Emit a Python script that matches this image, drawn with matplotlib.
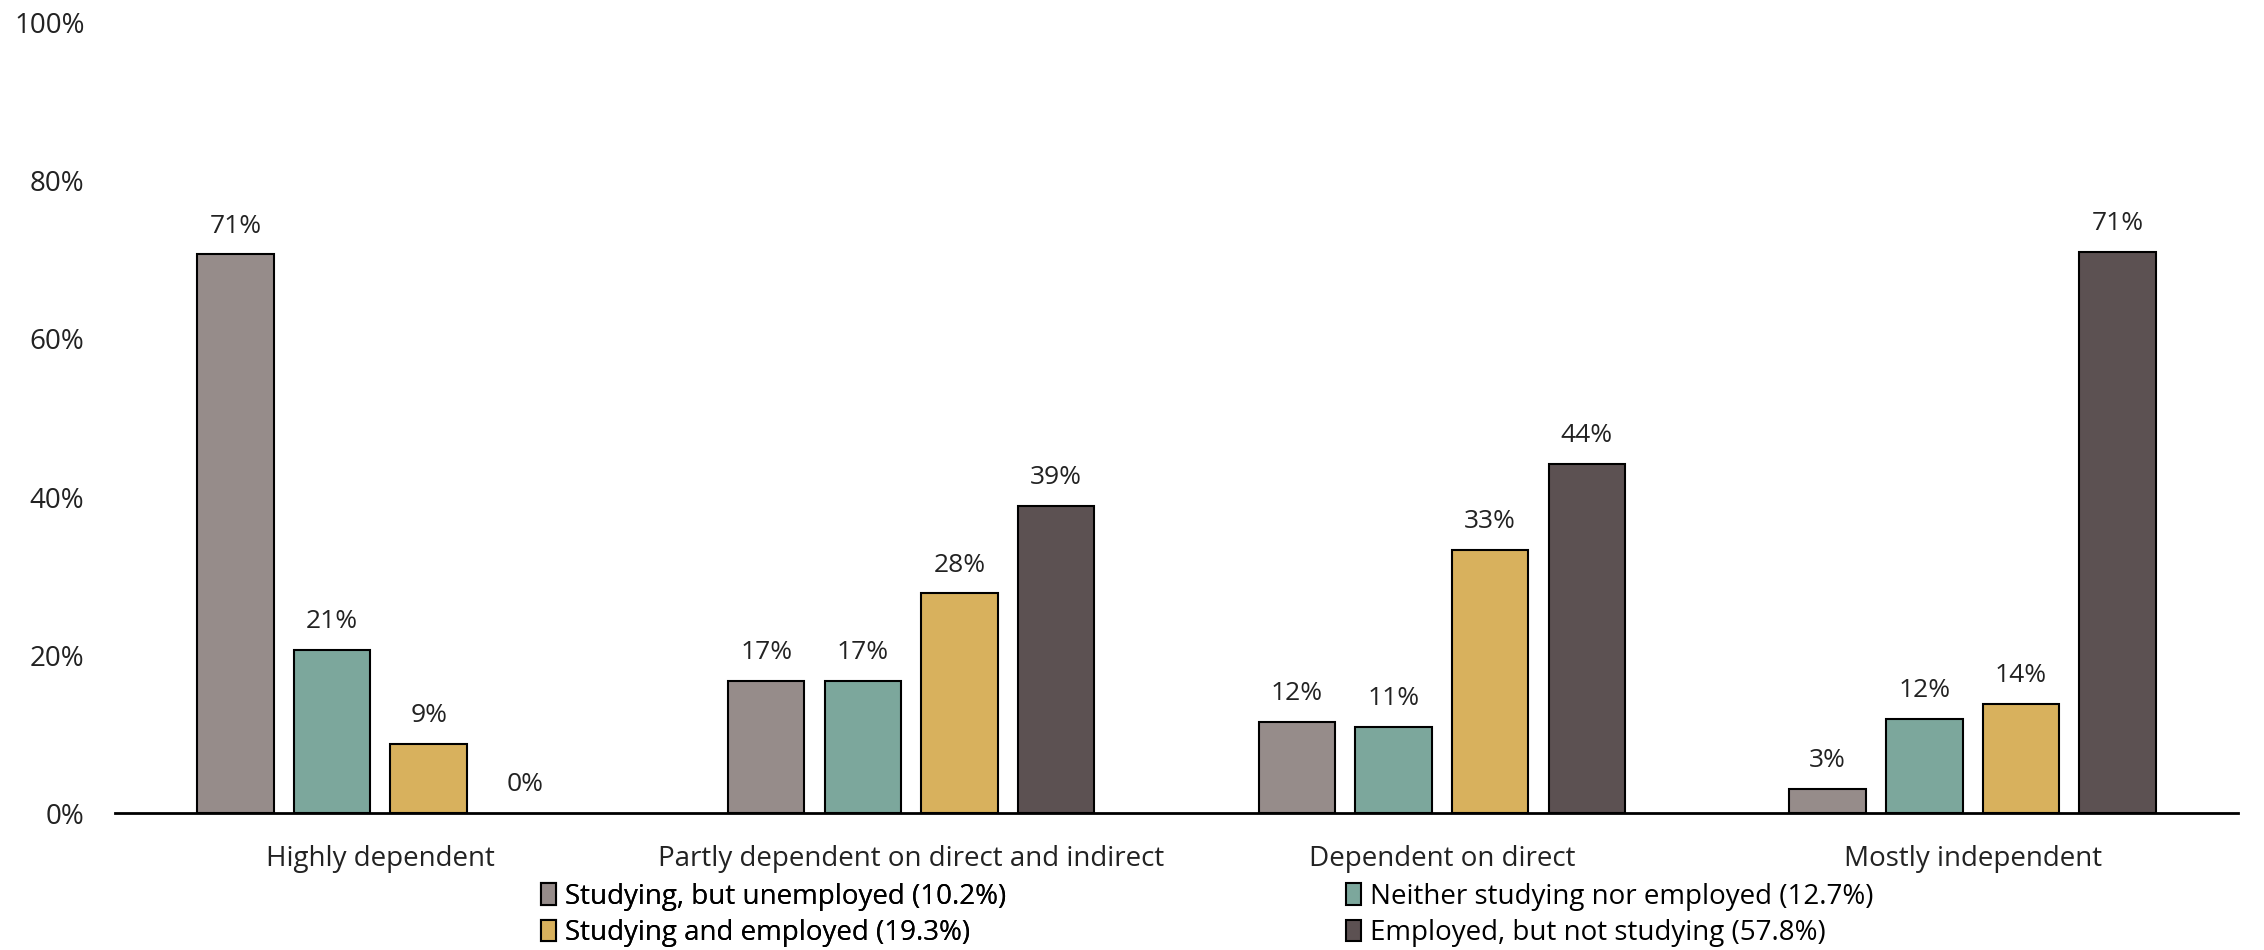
import numpy as np
import matplotlib.pyplot as plt
from matplotlib.patches import Patch
from matplotlib.ticker import FuncFormatter

categories = [
    "Highly dependent",
    "Partly dependent on direct and indirect",
    "Dependent on direct",
    "Mostly independent",
]
series_names = [
    "Studying, but unemployed (10.2%)",
    "Neither studying nor employed (12.7%)",
    "Studying and employed (19.3%)",
    "Employed, but not studying (57.8%)",
]
studying_unemployed = [70.7, 16.7, 11.5, 3.1]
neither = [20.6, 16.7, 10.9, 11.9]
studying_employed = [8.7, 27.8, 33.3, 13.8]
employed_not_studying = [0.0, 38.9, 44.2, 71.0]

colors = ["#968C8A", "#7CA79C", "#D8B15D", "#5C5152"]

plt.rcParams["font.family"] = ["Open Sans", "DejaVu Sans"]

fig = plt.figure(figsize=(22.64, 9.5), dpi=100)
ax = fig.add_axes([0.0508, 0.1442, 0.9377, 0.8316])

x = np.arange(len(categories))
width = 0.144
step = 0.182
all_series = [studying_unemployed, neither, studying_employed, employed_not_studying]
for i, vals in enumerate(all_series):
    pos = x + (i - 1.5) * step
    for xp, v in zip(pos, vals):
        if v > 0:
            ax.bar(xp, v, width=width, color=colors[i], edgecolor="black", linewidth=1.5)
        ax.text(xp, v + 2.0, f"{v:.0f}%", ha="center", va="bottom", fontsize=19, color="#222222")

ax.set_xlim(-0.5, len(categories) - 0.5)
ax.set_ylim(0, 100)
ax.set_yticks(np.arange(0, 101, 20))
ax.yaxis.set_major_formatter(FuncFormatter(lambda v, p: f"{v:.0f}%"))
ax.set_xticks(x)
ax.set_xticklabels(categories)
ax.tick_params(axis="y", length=0, pad=22, labelsize=20, labelcolor="#222222")
ax.tick_params(axis="x", length=0, pad=23, labelsize=20, labelcolor="#222222")
for s in ["top", "right", "left"]:
    ax.spines[s].set_visible(False)
ax.spines["bottom"].set_linewidth(2)

# legend split into two columns placed by hand
def make_legend(idx, xpos):
    handles = [Patch(facecolor=colors[i], edgecolor="black", linewidth=1.5) for i in idx]
    labels = [series_names[i] for i in idx]
    leg = fig.legend(
        handles, labels, loc="upper left", bbox_to_anchor=(xpos, 0.071),
        frameon=False, fontsize=20, handlelength=0.55, handleheight=0.8,
        handletextpad=0.3, labelspacing=0.3, borderpad=0, borderaxespad=0,
    )
    return leg

leg1 = make_legend([0, 2], 0.239)
fig.add_artist(leg1)
make_legend([1, 3], 0.5945)

fig.savefig("out.png", dpi=100)
